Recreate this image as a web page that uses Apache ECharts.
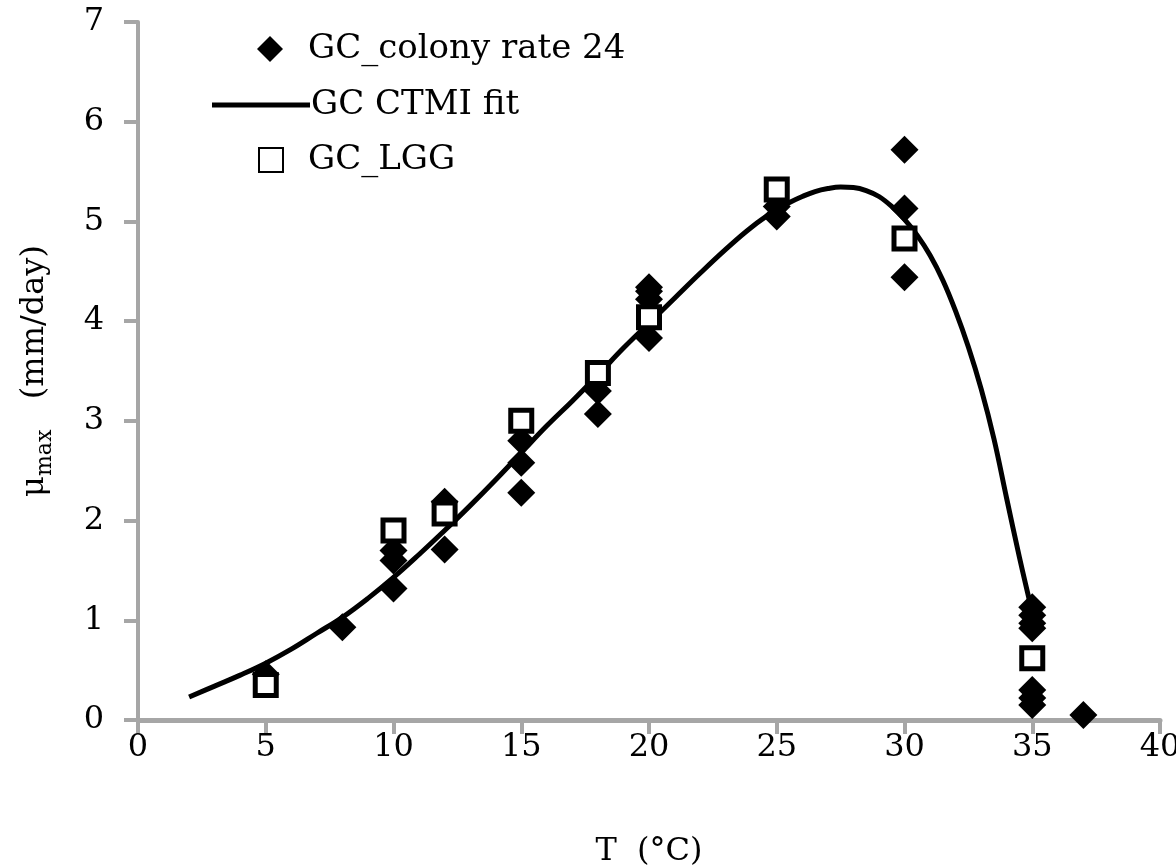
<!DOCTYPE html>
<html>
	<head>
		<meta charset="utf-8">
		<script src="https://cdn.jsdelivr.net/npm/echarts@6/dist/echarts.min.js"></script>
		<title>CTMI fit</title>
	</head>
	<body style="margin:0;background:#fff;">
		<div id="main" style="width: 1176px;height:868px;"></div>
		<script type="text/javascript">
			// GC_colony rate 24 (diamonds)
			var colonyT = [5, 8, 10, 10, 10, 12, 12, 15, 15, 15, 18, 18, 20, 20, 20, 20, 25, 25, 30, 30, 30, 35, 35, 35, 35, 35, 35, 35, 37];
			var colonyRate = [0.46, 0.93, 1.32, 1.6, 1.7, 1.71, 2.19, 2.28, 2.58, 2.8, 3.07, 3.3, 3.83, 4.22, 4.3, 4.34, 5.05, 5.15, 4.44, 5.13, 5.72, 1.13, 1.05, 0.97, 0.92, 0.3, 0.22, 0.15, 0.05];
			// GC_LGG (open squares)
			var lggT = [5, 10, 12, 15, 18, 20, 25, 30, 35];
			var lggRate = [0.35, 1.9, 2.07, 3.0, 3.48, 4.04, 5.32, 4.83, 0.62];
			// GC CTMI fit (denser round the peak)
			var fitT = [2, 3, 4, 5, 6, 7, 8, 9, 10, 11, 12, 13, 14, 15, 16, 17, 18, 19, 20, 21, 22, 23, 24, 25, 25.5, 26, 26.5, 27, 27.5, 28, 28.5, 29, 29.5, 30, 30.5, 31, 31.5, 32, 32.5, 33, 33.5, 34, 34.5, 35];
			var fitRate = [0.23, 0.34, 0.45, 0.57, 0.71, 0.87, 1.03, 1.22, 1.43, 1.66, 1.9, 2.15, 2.41, 2.68, 2.95, 3.2, 3.46, 3.73, 3.98, 4.23, 4.48, 4.72, 4.94, 5.12, 5.19, 5.25, 5.3, 5.33, 5.345, 5.34, 5.31, 5.25, 5.15, 5.02, 4.86, 4.66, 4.41, 4.1, 3.74, 3.32, 2.82, 2.22, 1.63, 1.08];

			function pairs(xs, ys) {
				var res = [];
				for (var i = 0; i < xs.length; i++) res.push([xs[i], ys[i]]);
				return res;
			}

			var font = 'DejaVu Serif';
			var axisGray = '#a6a6a6';

			var myChart = echarts.init(document.getElementById('main'));
			myChart.setOption({
				backgroundColor: '#fff',
				animation: false,
				textStyle: { fontFamily: font, color: '#000' },
				grid: { left: 138, right: 16, top: 22, bottom: 148, outerBoundsMode: 'none', containLabel: false },
				legend: [
					{
						left: 252, top: 27, itemWidth: 26, itemHeight: 26,
						data: [{ name: 'GC_colony rate 24', icon: 'diamond' }],
						textStyle: { fontFamily: font, fontSize: 34, color: '#000', padding: [0, 0, 0, 20] }
					},
					{
						left: 207, top: 83, itemWidth: 98, itemHeight: 5,
						data: [{ name: 'GC CTMI fit', icon: 'rect' }],
						textStyle: { fontFamily: font, fontSize: 34, color: '#000', padding: [0, 0, 0, -4] }
					},
					{
						left: 253, top: 138, itemWidth: 24, itemHeight: 24,
						data: ['GC_LGG'],
						textStyle: { fontFamily: font, fontSize: 34, color: '#000', padding: [0, 0, 0, 20] }
					}
				],
				xAxis: {
					type: 'value', min: 0, max: 40, interval: 5,
					name: 'T  (°C)', nameLocation: 'middle', nameGap: 116,
					nameTextStyle: { fontFamily: font, fontSize: 32, color: '#000' },
					axisLine: { onZero: false, lineStyle: { color: axisGray, width: 5 } },
					axisTick: { inside: false, length: 14, lineStyle: { color: axisGray, width: 4 } },
					axisLabel: { fontFamily: font, fontSize: 32, color: '#000', margin: 12 },
					splitLine: { show: false }
				},
				yAxis: {
					type: 'value', min: 0, max: 7, interval: 1,
					name: '{a|μ}{b|max}{a|   (mm/day)}', nameLocation: 'middle', nameGap: 80, nameRotate: 90,
					nameTextStyle: {
						fontFamily: font, color: '#000',
						rich: {
							a: { fontFamily: font, fontSize: 32, color: '#000', lineHeight: 46, verticalAlign: 'middle' },
							b: { fontFamily: font, fontSize: 22, color: '#000', lineHeight: 46, verticalAlign: 'bottom', padding: [0, 0, 2, 0] }
						}
					},
					axisLine: { show: true, lineStyle: { color: axisGray, width: 4 } },
					axisTick: { show: true, inside: false, length: 14, lineStyle: { color: axisGray, width: 4 } },
					axisLabel: { fontFamily: font, fontSize: 32, color: '#000', margin: 34 },
					splitLine: { show: false }
				},
				series: [
					{
						name: 'GC_colony rate 24',
						type: 'scatter',
						symbol: 'diamond',
						symbolSize: 28,
						z: 2,
						itemStyle: { color: '#000', opacity: 1 },
						data: pairs(colonyT, colonyRate)
					},
					{
						name: 'GC CTMI fit',
						type: 'line',
						smooth: 0.4,
						showSymbol: false,
						symbol: 'none',
						z: 3,
						lineStyle: { color: '#000', width: 5 },
						itemStyle: { color: '#000' },
						data: pairs(fitT, fitRate)
					},
					{
						name: 'GC_LGG',
						type: 'scatter',
						symbol: 'rect',
						symbolSize: 21,
						z: 4,
						itemStyle: { color: '#fff', borderColor: '#000', borderWidth: 5, opacity: 1 },
						data: pairs(lggT, lggRate)
					}
				]
			});
		</script>
	</body>
</html>
